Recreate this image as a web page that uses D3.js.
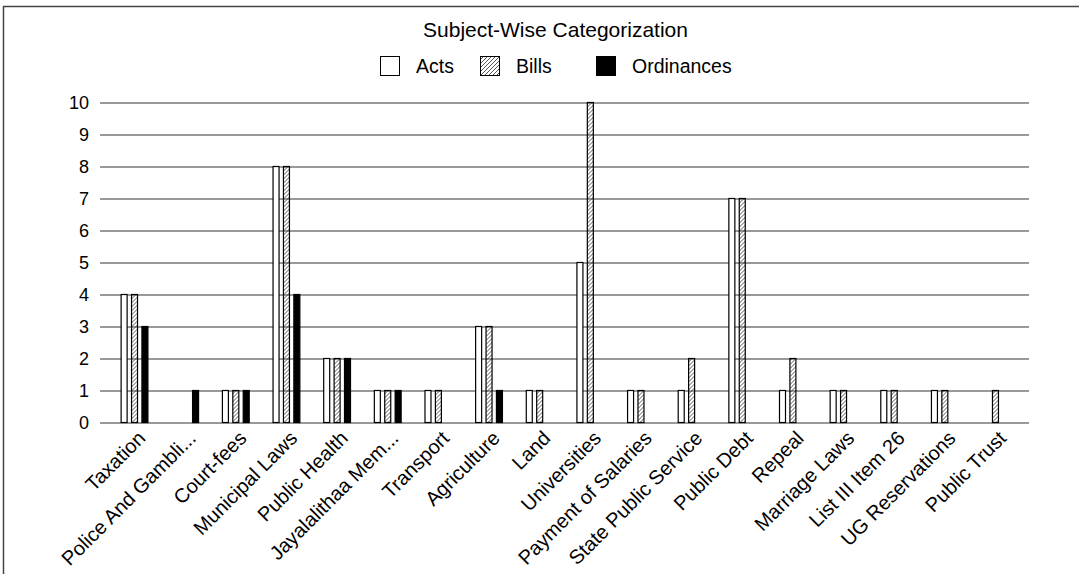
<!DOCTYPE html>
<html>
<head>
<meta charset="utf-8">
<script src="https://cdn.jsdelivr.net/npm/d3@7"></script>
<style>
  body { margin: 0; background: #fff; }
  text { font-family: "Liberation Sans", Arial, sans-serif; fill: #000; }
</style>
</head>
<body>
<div id="chart"></div>
<script>
// Chart data
const categories = ["Taxation", "Police And Gambli...", "Court-fees", "Municipal Laws", "Public Health",
    "Jayalalithaa Mem...", "Transport", "Agriculture", "Land", "Universities", "Payment of Salaries",
    "State Public Service", "Public Debt", "Repeal", "Marriage Laws", "List III Item 26",
    "UG Reservations", "Public Trust"];
const seriesNames = ["Acts", "Bills", "Ordinances"];
const acts = [4, 0, 1, 8, 2, 1, 1, 3, 1, 5, 1, 1, 7, 1, 1, 1, 1, 0];
const bills = [4, 0, 1, 8, 2, 1, 1, 3, 1, 10, 1, 2, 7, 2, 1, 1, 1, 1];
const ordinances = [3, 1, 1, 4, 2, 1, 0, 1, 0, 0, 0, 0, 0, 0, 0, 0, 0, 0];
const yTicks = [0, 1, 2, 3, 4, 5, 6, 7, 8, 9, 10];
const title = "Subject-Wise Categorization";

const seriesValues = [acts, bills, ordinances];

// Dimensions
const W = 1079, H = 574;
const margin = { top: 102.5, left: 100 };
const width = 929;
const height = 320;

const svg = d3.select("#chart")
    .append("svg")
    .attr("width", W)
    .attr("height", H);

// Hatch pattern for Bills
const defs = svg.append("defs");
defs.append("pattern")
    .attr("id", "hatch")
    .attr("patternUnits", "userSpaceOnUse")
    .attr("width", 4)
    .attr("height", 4)
    .append("path")
    .attr("d", "M-1,1 l2,-2 M0,4 l4,-4 M3,5 l2,-2")
    .attr("stroke", "#444")
    .attr("stroke-width", 0.9);

const fills = ["#fff", "url(#hatch)", "#000"];

// Outer frame
svg.append("rect")
    .attr("x", 3.5)
    .attr("y", 6.5)
    .attr("width", 1200)
    .attr("height", 1000)
    .attr("fill", "none")
    .attr("stroke", "#444")
    .attr("stroke-width", 1.5);

// Title
svg.append("text")
    .attr("x", 555.5)
    .attr("y", 36.5)
    .attr("text-anchor", "middle")
    .style("font-size", "21px")
    .text(title);

// Legend
const legendX = [380, 480, 596];
const legend = svg.append("g");
seriesNames.forEach((name, i) => {
    legend.append("rect")
        .attr("x", legendX[i] + 0.5)
        .attr("y", 56.5)
        .attr("width", 19)
        .attr("height", 19)
        .attr("fill", fills[i])
        .attr("stroke", "#000")
        .attr("stroke-width", 1);
    legend.append("text")
        .attr("x", legendX[i] + 36)
        .attr("y", 72.5)
        .style("font-size", "19.5px")
        .text(name);
});

const g = svg.append("g")
    .attr("transform", "translate(" + margin.left + "," + margin.top + ")");

// Scales
const x0 = d3.scaleBand()
    .domain(categories)
    .range([9.2, 920.8]);

const x1 = d3.scalePoint()
    .domain(seriesNames)
    .range([-10.4, 10.4]);

const y = d3.scaleLinear()
    .domain([0, 10])
    .range([height, 0]);

// Gridlines + y axis labels
const yAxis = d3.axisLeft(y)
    .tickValues(yTicks)
    .tickSize(-width)
    .tickPadding(11)
    .tickFormat(d3.format("d"));

const yg = g.append("g").call(yAxis);
yg.select(".domain").remove();
yg.selectAll(".tick line")
    .attr("stroke", "#777")
    .attr("stroke-width", 1.5);
yg.selectAll(".tick text")
    .style("font-size", "18px")
    .attr("fill", "#000");

// Bars
const barData = [];
categories.forEach((c, i) => {
    seriesNames.forEach((s, j) => {
        if (seriesValues[j][i] > 0) barData.push({ cat: c, series: s, idx: j, value: seriesValues[j][i] });
    });
});

const barW = 6;
g.selectAll(".bar")
    .data(barData)
    .enter()
    .append("rect")
    .attr("class", "bar")
    .attr("x", d => x0(d.cat) + x0.bandwidth() / 2 + x1(d.series) - barW / 2)
    .attr("y", d => y(d.value))
    .attr("width", barW)
    .attr("height", d => y(0) - y(d.value))
    .attr("fill", d => fills[d.idx])
    .attr("stroke", "#000")
    .attr("stroke-width", 1.2);

// Category labels
g.selectAll(".cat-label")
    .data(categories)
    .enter()
    .append("text")
    .attr("class", "cat-label")
    .attr("text-anchor", "end")
    .attr("transform", d => "translate(" + (x0(d) + x0.bandwidth() / 2 + 12) + "," + (height + 17) + ") rotate(-45)")
    .style("font-size", "20px")
    .text(d => d);
</script>
</body>
</html>
